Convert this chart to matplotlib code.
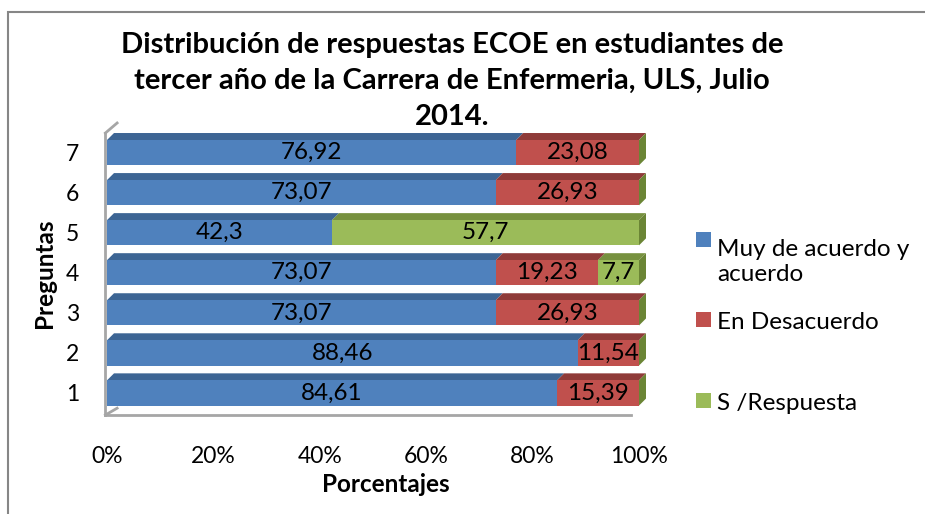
import matplotlib
matplotlib.use("Agg")
import matplotlib.pyplot as plt
from matplotlib.patches import Polygon, Rectangle

# --- Datos ---
preguntas = ["1", "2", "3", "4", "5", "6", "7"]
muy_de_acuerdo = [84.61, 88.46, 73.07, 73.07, 42.3, 73.07, 76.92]
en_desacuerdo = [15.39, 11.54, 26.93, 19.23, 0, 26.93, 23.08]
sin_respuesta = [0, 0, 0, 7.7, 57.7, 0, 0]
series_nombres = ["Muy de acuerdo y\nacuerdo", "En Desacuerdo", "S /Respuesta"]
x_ticks = [0, 20, 40, 60, 80, 100]

titulo = ("Distribución de respuestas ECOE en estudiantes de\n"
          "tercer año de la Carrera de Enfermeria, ULS, Julio\n2014.")

# colores estilo Excel 2007
frente = ["#4F81BD", "#C0504D", "#9BBB59"]
techo = ["#3D6594", "#8F3B39", "#77913F"]
lado_verde = "#6B8535"

plt.rcParams["font.family"] = ["Lato", "DejaVu Sans"]

W, H = 925, 514
fig = plt.figure(figsize=(W / 100, H / 100), dpi=100)


def fx(px):
    return px / W


def fy(py):
    return 1 - py / H


# area del grafico (pixeles de la imagen original)
x0_px, x1_px = 107, 639
floor_px, top_px = 415, 125
ax = fig.add_axes([fx(x0_px), fy(floor_px), (x1_px - x0_px) / W, (floor_px - top_px) / H])
ymin, ymax = 0.45, 7.69
ax.set_xlim(0, 100)
ax.set_ylim(ymin, ymax)
for s in ax.spines.values():
    s.set_visible(False)

px_x = (x1_px - x0_px) / 100.0
px_y = (floor_px - top_px) / (ymax - ymin)
dx = 7 / px_x   # profundidad 3D
dy = 7 / px_y
alto = 0.63

y_pos = list(range(1, len(preguntas) + 1))

# --- pared y piso en gris ---
gris = "#A6A6A6"
ax.plot([-0.3, -0.3], [ymin, 7.49], color=gris, lw=2, clip_on=False, zorder=1)
ax.plot([-0.3, 1.9], [7.49, 7.74], color=gris, lw=2, clip_on=False, zorder=1)
ax.plot([-0.3, 98.5], [ymin, ymin], color=gris, lw=2, clip_on=False, zorder=1)
ax.plot([-0.3, 1.9], [ymin, ymin + 0.17], color=gris, lw=2, clip_on=False, zorder=1)

# --- barras apiladas con efecto 3D ---
series = [muy_de_acuerdo, en_desacuerdo, sin_respuesta]
for y, i in zip(y_pos, range(len(preguntas))):
    izq = 0
    for k, datos in enumerate(series):
        v = datos[i]
        if v > 0:
            ax.barh(y, v, left=izq, height=alto, color=frente[k], zorder=3)
            top = y + alto / 2
            ax.add_patch(Polygon([(izq, top), (izq + v, top), (izq + v + dx, top + dy),
                                  (izq + dx, top + dy)], closed=True,
                                 facecolor=techo[k], edgecolor="none", zorder=2, clip_on=False))
            ax.text(izq + v / 2, y, f"{v:g}".replace(".", ","), ha="center", va="center",
                    fontsize=17.5, color="black", zorder=5)
        izq += v
    # cara lateral derecha (verde, de la ultima serie)
    ax.add_patch(Polygon([(izq, y - alto / 2), (izq, y + alto / 2), (izq + dx, y + alto / 2 + dy),
                          (izq + dx, y - alto / 2 + dy)], closed=True,
                         facecolor=lado_verde, edgecolor="none", zorder=2, clip_on=False))

ax.set_yticks(y_pos)
ax.set_yticklabels(preguntas, fontsize=16.5)
ax.set_xticks(x_ticks)
ax.set_xticklabels([f"{t}%" for t in x_ticks], fontsize=16.5)
ax.tick_params(axis="both", length=0)
ax.tick_params(axis="y", pad=20)
ax.tick_params(axis="x", pad=22)

# --- textos ---
fig.text(fx(452), fy(81), titulo, ha="center", va="center", fontsize=21,
         fontweight="bold", linespacing=1.47)
fig.text(fx(386), fy(485), "Porcentajes", ha="center", va="center", fontsize=17.5, fontweight="bold")
fig.text(fx(45), fy(273), "Preguntas", ha="center", va="center", fontsize=17.5,
         fontweight="bold", rotation=90)

# --- leyenda manual ---
ley_cuadro = [248, 328, 409]      # borde inferior del cuadro
ley_base = [281, 329, 410]        # linea base de la ultima linea del texto
for k, nombre in enumerate(series_nombres):
    fig.add_artist(Rectangle((fx(696), fy(ley_cuadro[k] - 1)), 15 / W, 15 / H,
                             transform=fig.transFigure, facecolor=frente[k], edgecolor="none"))
    fig.text(fx(717), fy(ley_base[k]), nombre, ha="left", va="baseline", fontsize=17.5,
             linespacing=1.25)

# borde del area del grafico
fig.add_artist(Rectangle((fx(8), -0.1), 1.2, fy(12) + 0.1, transform=fig.transFigure,
                         fill=False, edgecolor="#868686", lw=1.5))

fig.savefig("out.png", dpi=100)
